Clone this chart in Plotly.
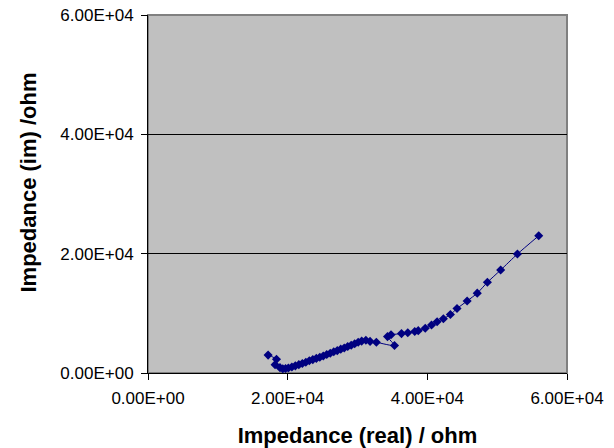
import plotly.graph_objects as go

z_real = [17200, 18400, 18200, 18900, 19300, 19700, 20100, 20600, 21100, 21600,
          22100, 22600, 23100, 23600, 24100, 24600, 25100, 25600, 26100, 26600,
          27100, 27600, 28100, 28600, 29100, 29600, 30100, 30600, 31200, 31800,
          32700, 35300, 34300, 34800, 36300, 37200, 38200, 38700, 39700, 40600,
          41400, 42300, 43300, 44250, 45700, 47150, 48600, 50500, 52900, 55950]
z_im = [3000, 2300, 1400, 900, 700, 750, 850, 1000, 1200, 1400,
        1600, 1800, 2050, 2250, 2450, 2650, 2850, 3100, 3300, 3550,
        3750, 4000, 4200, 4450, 4650, 4900, 5150, 5350, 5500, 5300,
        5150, 4600, 6100, 6400, 6600, 6750, 6950, 7100, 7500, 8050,
        8600, 9100, 9800, 10800, 12070, 13380, 15200, 17260, 19940, 23000]

tick_vals = [0, 20000, 40000, 60000]
tick_text = ["0.00E+00", "2.00E+04", "4.00E+04", "6.00E+04"]

x_title = "Impedance (real) / ohm"
y_title = "Impedance (im) /ohm"

fig = go.Figure()
fig.add_trace(go.Scatter(
    x=z_real, y=z_im, mode="lines+markers",
    line=dict(color="#000080", width=1, shape="spline", smoothing=0.6),
    marker=dict(symbol="diamond", size=7, color="#000080"),
    showlegend=False,
))

font_family = "Liberation Sans, Arial, sans-serif"

fig.update_layout(
    width=614, height=448,
    margin=dict(l=148, r=47, t=15, b=75),
    paper_bgcolor="white",
    plot_bgcolor="#C0C0C0",
    font=dict(family=font_family, color="black"),
    shapes=[dict(type="rect", xref="paper", yref="paper", x0=0, x1=1, y0=0, y1=1,
                 line=dict(color="#808080", width=2), layer="below")],
    annotations=[dict(text=y_title, textangle=-90, xref="paper", yref="paper",
                      x=-0.285, y=0.218, xanchor="center", yanchor="bottom",
                      showarrow=False,
                      font=dict(family=font_family, size=22, color="black", weight="bold"))],
)
fig.update_xaxes(
    range=[0, 60000], tickvals=tick_vals, ticktext=tick_text,
    showgrid=False, zeroline=False, automargin=False,
    showline=True, linecolor="black", linewidth=1,
    ticks="outside", ticklen=6, tickcolor="black",
    tickfont=dict(size=17, color="black"), ticklabelstandoff=4,
    title=dict(text=x_title, font=dict(size=22, color="black", weight="bold"), standoff=20),
)
fig.update_yaxes(
    range=[0, 60000], tickvals=tick_vals, ticktext=tick_text,
    showgrid=True, gridcolor="black", gridwidth=1, zeroline=False, automargin=False,
    showline=True, linecolor="black", linewidth=1,
    ticks="outside", ticklen=6, tickcolor="black",
    tickfont=dict(size=17, color="black"), ticklabelstandoff=4,
)

fig.write_html("out.html", config={"displayModeBar": False},
               post_script="document.body.style.margin='0px';document.body.style.padding='0px';")
